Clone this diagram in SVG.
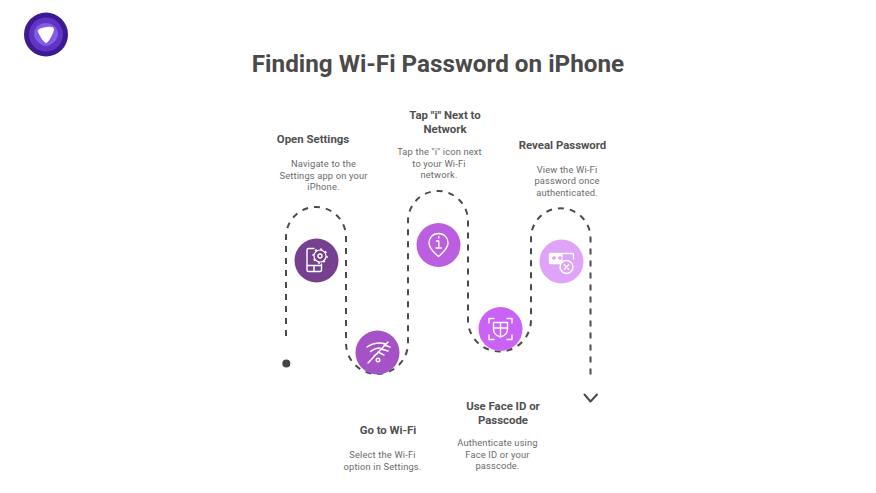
<svg xmlns="http://www.w3.org/2000/svg" width="876" height="493" viewBox="0 0 876 493">
<style>
text{font-family:Roboto,"Liberation Sans",sans-serif;text-anchor:middle}
.t{font-size:11.400px;font-weight:700;fill:#505050}
.d{font-size:9.300px;fill:#6a6a6a;letter-spacing:.17px}
.i{fill:none;stroke:#fff;stroke-width:1.400;stroke-linecap:round;stroke-linejoin:round}
</style>
<rect width="876" height="493" fill="#fff"/>
<g id="logo">
<circle cx="46" cy="34.500" r="22" fill="#3c1a93"/>
<circle cx="46" cy="34.500" r="17" fill="#5f35c2"/>
<path d="M46 23C53 23 58 28 58 34C58 40 51 46 46 46C41 46 34 40 34 34C34 28 39 23 46 23Z" fill="#825ee8"/>
<path d="M39 29.500C42 28 49 26.500 52.500 27.500C54 28.500 53.500 31 52 34C50.500 37 48.500 41.500 46.500 42.500C44.500 43 41.500 38 40 35C38.500 32 37.500 30.500 39 29.500Z" fill="#fff" stroke="#fff" stroke-width="1" stroke-linejoin="round"/>
</g>
<text x="438" y="71.500" style="font-size:24.250px;font-weight:700;fill:#4a4a4a">Finding Wi-Fi Password on iPhone</text>
<g id="connectors" fill="none" stroke="#4a4a4a" stroke-width="2">
<path stroke-dasharray="6 6" d="M286 336V237A30 30 0 0 1 346 237V343A31 31 0 0 0 408 343V221A30 30 0 0 1 468 221V320A31.500 31.500 0 0 0 531 320V238A29.500 29.500 0 0 1 590.500 238V380"/>
<circle cx="286.300" cy="363.500" r="4" fill="#444" stroke="none"/>
<path d="M584.500 394.500L590.500 401.500L597 394.500" stroke-width="2" stroke-linecap="round" stroke-linejoin="round"/>
</g>
<g id="step1">
<circle cx="316.500" cy="260.500" r="22" fill="#75418f"/>
<path class="i" d="M314 248.500H308.500Q307 248.500 307 250V270Q307 271.500 308.500 271.500H320Q321.500 271.500 321.500 270V264M307 265.500H321.500M314 265.500V271.500"/>
<circle cx="320" cy="256" r="6" fill="none" stroke="#fff" stroke-width="1.200"/>
<circle cx="320" cy="256" r="7" fill="none" stroke="#fff" stroke-width="1.500" stroke-dasharray="2 3.500"/>
<circle class="i" cx="320" cy="256" r="2"/>
<text class="t" x="313" y="143">Open Settings</text>
<text class="d" x="323.500" y="167">Navigate to the</text>
<text class="d" x="323.500" y="178.500">Settings app on your</text>
<text class="d" x="323.500" y="190">iPhone.</text>
</g>
<g id="step2">
<circle cx="377.500" cy="352.500" r="22" fill="#a452c5"/>
<path class="i" d="M367 347Q376 341 386 344M370.500 351.500Q375 348 380 348M374 356Q375.500 354.500 377 354M388 342L368 363M381 349L388 351M384 345L390 347M378 352L384 355"/>
<circle class="i" cx="378" cy="360" r="1.800"/>
<text class="t" x="388" y="434">Go to Wi-Fi</text>
<text class="d" x="382.500" y="458">Select the Wi-Fi</text>
<text class="d" x="382.500" y="469.500">option in Settings.</text>
</g>
<g id="step3">
<circle cx="438.500" cy="245" r="22" fill="#bb5fe0"/>
<path class="i" d="M438.500 233.500C432.500 233.500 429 238 429 243C429 249 435 253 438.500 256.500C442 253 448 249 448 243C448 238 444.500 233.500 438.500 233.500Z"/>
<path class="i" d="M438.800 236.800V238M436.500 241H438.800V248M436 248H441.500"/>
<text class="t" x="445" y="119">Tap "i" Next to</text>
<text class="t" x="445" y="133">Network</text>
<text class="d" x="439.500" y="155">Tap the "i" icon next</text>
<text class="d" x="439" y="166.500">to your Wi-Fi</text>
<text class="d" x="439" y="178">network.</text>
</g>
<g id="step4">
<circle cx="500.500" cy="329" r="22" fill="#ca63f5"/>
<path class="i" d="M489 323V318.500H494M507 318.500H512V323M489 335V339.500H494M507 339.500H512V335"/>
<path class="i" d="M493.500 322.500H507.500V329C507.500 333.500 504 336 500.500 337C497 336 493.500 333.500 493.500 329ZM493.500 328H507.500M500.500 322.500V337"/>
<text class="t" x="503" y="410">Use Face ID or</text>
<text class="t" x="503" y="424">Passcode</text>
<text class="d" x="497.500" y="446">Authenticate using</text>
<text class="d" x="497.500" y="457.500">Face ID or your</text>
<text class="d" x="497.500" y="469">passcode.</text>
</g>
<g id="step5">
<circle cx="561.500" cy="261.500" r="22" fill="#dfa3f7"/>
<path class="i" d="M561 263.500H550.500Q549.500 263.500 549.500 262.500V254.500Q549.500 253.500 550.500 253.500H572.500Q573.500 253.500 573.500 254.500V259"/>
<rect x="549.500" y="253.500" width="13" height="10" fill="#fff"/>
<path d="M552 258H556M558 258H562M554 256V260M560 256V260" stroke="#dfa3f7" stroke-width="1.400"/>
<circle cx="566.500" cy="267" r="6.500" fill="#dfa3f7" stroke="#fff" stroke-width="1.400"/>
<path class="i" d="M564.300 264.800L568.700 269.200M568.700 264.800L564.300 269.200"/>
<text class="t" x="562.500" y="149">Reveal Password</text>
<text class="d" x="567" y="172.500">View the Wi-Fi</text>
<text class="d" x="567" y="184">password once</text>
<text class="d" x="567" y="195.500">authenticated.</text>
</g>
</svg>
